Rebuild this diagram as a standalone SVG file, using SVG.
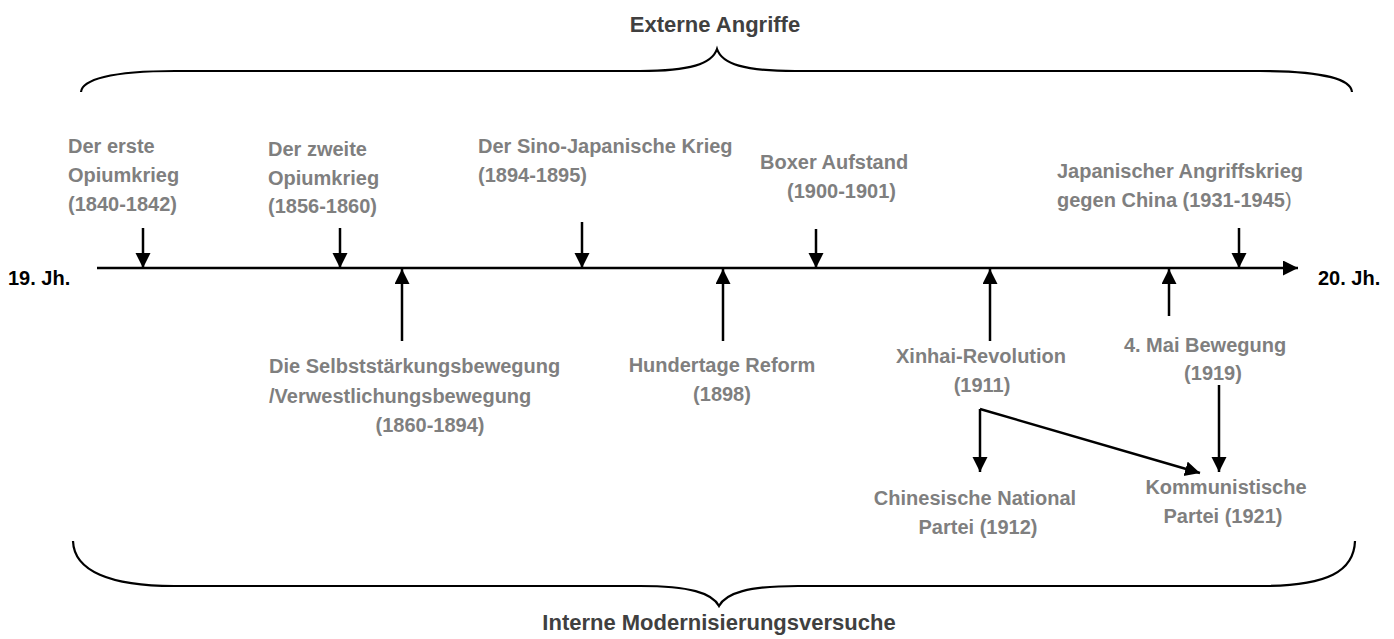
<svg xmlns="http://www.w3.org/2000/svg" width="1394" height="639" viewBox="0 0 1394 639">
<defs>
<marker id="ah" markerUnits="userSpaceOnUse" markerWidth="16" markerHeight="16" refX="15" refY="7.5" orient="auto">
<path d="M0,0 L15,7.5 L0,15 z" fill="#000"/>
</marker>
<style>
text{font-family:"Liberation Sans",Arial,sans-serif;font-weight:bold;}
.lbl{font-size:20px;fill:#7f7f7f;}
.hdr{font-size:22px;fill:#404040;}
.jh{font-size:20px;fill:#000;}
.c{text-anchor:middle;}
.ln{fill:none;stroke:#000;stroke-width:2.5;}
.br{fill:none;stroke:#000;stroke-width:2.2;}
</style>
</defs>
<rect width="1394" height="639" fill="#fff"/>
<g id="braces">
<path class="br" d="M81,92 C82,80 110,71 175,71 L640,71 C690,71 712,64 717,49 C722,64 744,71 795,71 L1260,71 C1325,71 1351,80 1352,92"/>
<path class="br" d="M73,541 C74,571 110,586 174,586 L640,586 C690,586 712,593 719,606 C726,593 748,586 798,586 L1262,586 C1328,586 1354,571 1355,541"/>
</g>
<g id="headers">
<text class="hdr c" x="715" y="32">Externe Angriffe</text>
<text class="hdr c" x="719" y="630">Interne Modernisierungsversuche</text>
<text class="jh" x="8" y="285">19. Jh.</text>
<text class="jh" x="1318" y="285">20. Jh.</text>
</g>
<g id="connectors">
<line class="ln" x1="97" y1="268" x2="1298" y2="268" marker-end="url(#ah)"/>
<line class="ln" x1="143" y1="228" x2="143" y2="268" marker-end="url(#ah)"/>
<line class="ln" x1="340" y1="228" x2="340" y2="268" marker-end="url(#ah)"/>
<line class="ln" x1="582" y1="222" x2="582" y2="268" marker-end="url(#ah)"/>
<line class="ln" x1="816" y1="229" x2="816" y2="268" marker-end="url(#ah)"/>
<line class="ln" x1="1239" y1="228" x2="1239" y2="268" marker-end="url(#ah)"/>
<line class="ln" x1="402" y1="341" x2="402" y2="269" marker-end="url(#ah)"/>
<line class="ln" x1="723" y1="341" x2="723" y2="269" marker-end="url(#ah)"/>
<line class="ln" x1="990" y1="341" x2="990" y2="269" marker-end="url(#ah)"/>
<line class="ln" x1="1169" y1="316" x2="1169" y2="269" marker-end="url(#ah)"/>
<line class="ln" x1="980" y1="409" x2="980" y2="472" marker-end="url(#ah)"/>
<line class="ln" x1="980" y1="409" x2="1200" y2="473" marker-end="url(#ah)"/>
<line class="ln" x1="1219" y1="385" x2="1219" y2="472" marker-end="url(#ah)"/>
</g>
<g id="n1"><text class="lbl" x="68" y="153">Der erste</text><text class="lbl" x="68" y="182">Opiumkrieg</text><text class="lbl" x="68" y="211">(1840-1842)</text></g>
<g id="n2"><text class="lbl" x="268" y="156">Der zweite</text><text class="lbl" x="268" y="185">Opiumkrieg</text><text class="lbl" x="268" y="213">(1856-1860)</text></g>
<g id="n3"><text class="lbl" x="478" y="153">Der Sino-Japanische Krieg</text><text class="lbl" x="478" y="182">(1894-1895)</text></g>
<g id="n4"><text class="lbl" x="760" y="169">Boxer Aufstand</text><text class="lbl" x="787" y="198">(1900-1901)</text></g>
<g id="n5"><text class="lbl" x="1057" y="178">Japanischer Angriffskrieg</text><text class="lbl" x="1057" y="207">gegen China (1931-1945<tspan style="font-weight:normal">)</tspan></text></g>
<g id="n6"><text class="lbl" x="269" y="373">Die Selbststärkungsbewegung</text><text class="lbl" x="269" y="403">/Verwestlichungsbewegung</text><text class="lbl c" x="430" y="432">(1860-1894)</text></g>
<g id="n7"><text class="lbl c" x="722" y="372">Hundertage Reform</text><text class="lbl c" x="722" y="401">(1898)</text></g>
<g id="n8"><text class="lbl c" x="981" y="363">Xinhai-Revolution</text><text class="lbl c" x="982" y="392">(1911)</text></g>
<g id="n9"><text class="lbl c" x="1205" y="352">4. Mai Bewegung</text><text class="lbl c" x="1213" y="380">(1919)</text></g>
<g id="n10"><text class="lbl c" x="975" y="505">Chinesische National</text><text class="lbl c" x="978" y="534">Partei (1912)</text></g>
<g id="n11"><text class="lbl c" x="1226" y="494">Kommunistische</text><text class="lbl c" x="1223" y="523">Partei (1921)</text></g>
</svg>
